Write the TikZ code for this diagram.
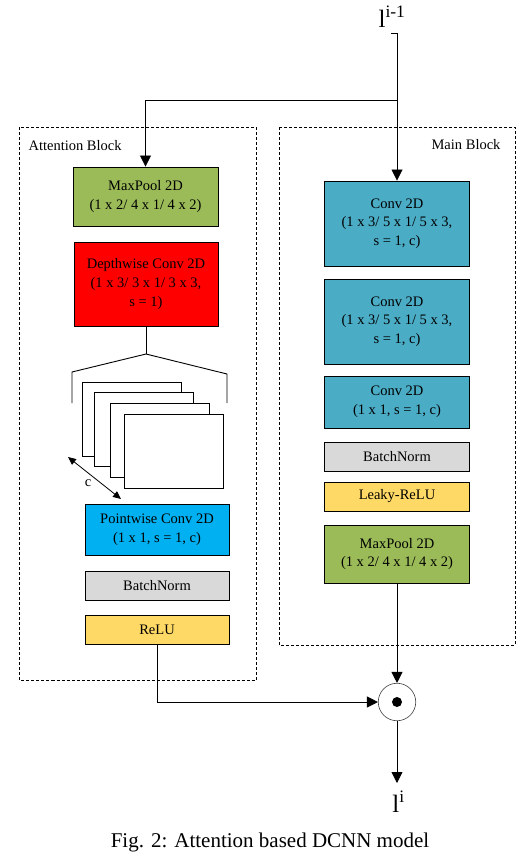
\documentclass[tikz,border=0pt]{standalone}
\usepackage{fontspec}
\setmainfont{Liberation Serif}
\usetikzlibrary{arrows.meta}

% Layer colours
\definecolor{poolgreen}{HTML}{9BBB59}
\definecolor{depthred}{HTML}{FF0000}
\definecolor{pointblue}{HTML}{00B0F0}
\definecolor{convblue}{HTML}{4BACC6}
\definecolor{normgray}{HTML}{D9D9D9}
\definecolor{reluyellow}{HTML}{FFD966}

\begin{document}
\begin{tikzpicture}[
        x=1pt, y=-1pt, % one unit is one pixel of the figure, y runs downwards
        % Define a style for the coloured layer boxes
        layer/.style={draw,line width=0.9pt,align=center,inner sep=0pt,
            font=\fontsize{14.5}{18.7}\selectfont},
        % Define a style for the dashed block frames
        block/.style={draw,line width=0.7pt,dash pattern=on 3pt off 2pt},
        % Define a style for the arrows between layers
        flow/.style={line width=0.8pt,-{Triangle[width=11pt,length=11pt]}},
        % Define a style for the stacked feature maps
        sheet/.style={draw,fill=white,line width=0.8pt},
        % Small text
        lbl/.style={font=\fontsize{14.5}{17}\selectfont}
    ]

    \useasboundingbox (0,0) rectangle (526,860);

    % Draw the two dashed blocks
    \draw[block] (19.5,127) rectangle (256,680);
    \draw[block] (279,127) rectangle (515,645);
    \node[lbl,anchor=west] (attlabel) at (25,146) {Attention Block};
    \node[lbl,anchor=east] (mainlabel) at (504,145) {Main Block};

    % Input
    \node[font=\fontsize{25}{28}\selectfont,anchor=base] (input) at (392,27) {l\textsuperscript{i-1}};
    \coordinate (tick) at (391,33);
    \coordinate (top) at (397,33);
    \coordinate (split) at (397,100);

    % Attention block layers
    \node[layer,fill=poolgreen,minimum width=145pt,minimum height=59pt] (attpool) at (145.5,196.5) {MaxPool 2D\\(1 x 2/ 4 x 1/ 4 x 2)};
    \node[layer,fill=depthred,minimum width=144pt,minimum height=84pt] (depth) at (146,284) {Depthwise Conv 2D\\(1 x 3/ 3 x 1/ 3 x 3,\\s = 1)};
    \node[layer,fill=pointblue,minimum width=144pt,minimum height=51pt] (point) at (157,529.5) {Pointwise Conv 2D\\(1 x 1, s = 1, c)};
    \node[layer,fill=normgray,minimum width=144pt,minimum height=29pt] (attnorm) at (157,585.5) {BatchNorm};
    \node[layer,fill=reluyellow,minimum width=144pt,minimum height=29pt] (relu) at (157,629.5) {ReLU};

    % Main block layers
    \node[layer,fill=convblue,minimum width=145pt,minimum height=85pt] (conv1) at (397,223.5) {Conv 2D\\(1 x 3/ 5 x 1/ 5 x 3,\\s = 1, c)};
    \node[layer,fill=convblue,minimum width=145pt,minimum height=85pt] (conv2) at (397,321.5) {Conv 2D\\(1 x 3/ 5 x 1/ 5 x 3,\\s = 1, c)};
    \node[layer,fill=convblue,minimum width=145pt,minimum height=52pt] (conv3) at (397,402) {Conv 2D\\(1 x 1, s = 1, c)};
    \node[layer,fill=normgray,minimum width=145pt,minimum height=29pt] (mainnorm) at (397,456.5) {BatchNorm};
    \node[layer,fill=reluyellow,minimum width=145pt,minimum height=29pt] (leaky) at (397,496.5) {Leaky-ReLU};
    \node[layer,fill=poolgreen,minimum width=145pt,minimum height=58pt] (mainpool) at (397,554) {MaxPool 2D\\(1 x 2/ 4 x 1/ 4 x 2)};

    % Depthwise output fans out into the channel maps
    \coordinate (fan) at (146,354);
    \coordinate (fanl) at (72,372);
    \coordinate (fanr) at (227,374);
    \draw[line width=0.9pt] (depth.south) -- (fan);
    \draw[line width=0.9pt] (fan) -- (fanl) -- ++(0,31);
    \draw[line width=0.9pt] (fan) -- (fanr) -- ++(0,29);

    % Stacked feature maps
    \foreach \x/\y in {82/382, 94/392, 110/403, 124/414}
        \draw[sheet] (\x,\y) rectangle ++(99,74);

    % Channel depth arrow
    \coordinate (cfrom) at (68,457);
    \coordinate (cto) at (121,499);
    \draw[line width=0.8pt,{Triangle[width=7pt,length=8pt]}-{Triangle[width=7pt,length=8pt]}] (cfrom) -- (cto);
    \node[lbl] (clabel) at (88,483) {c};

    % Element-wise product
    \node[circle,draw=black!75,line width=0.6pt,minimum size=37.5pt,inner sep=0pt] (mult) at (397,702) {};
    \fill (mult.center) circle (5pt);

    % Output
    \node[font=\fontsize{25}{28}\selectfont,anchor=base] (output) at (398.5,812) {l\textsuperscript{i}};
    \coordinate (outend) at (397,783);

    % Connectors
    \draw[line width=0.8pt] (tick) -- (top) -- (split);
    \draw[flow] (split) -| (attpool.north);
    \draw[flow] (split) -- (conv1.north);
    \draw[flow] (relu.south) |- (mult.west);
    \draw[flow] (mainpool.south) -- (mult.north);
    \draw[flow] (mult.south) -- (outend);

    % Caption
    \node[font=\fontsize{21}{24}\selectfont,anchor=base] (caption) at (270,847) {Fig. 2: Attention based DCNN model};

\end{tikzpicture}
\end{document}
